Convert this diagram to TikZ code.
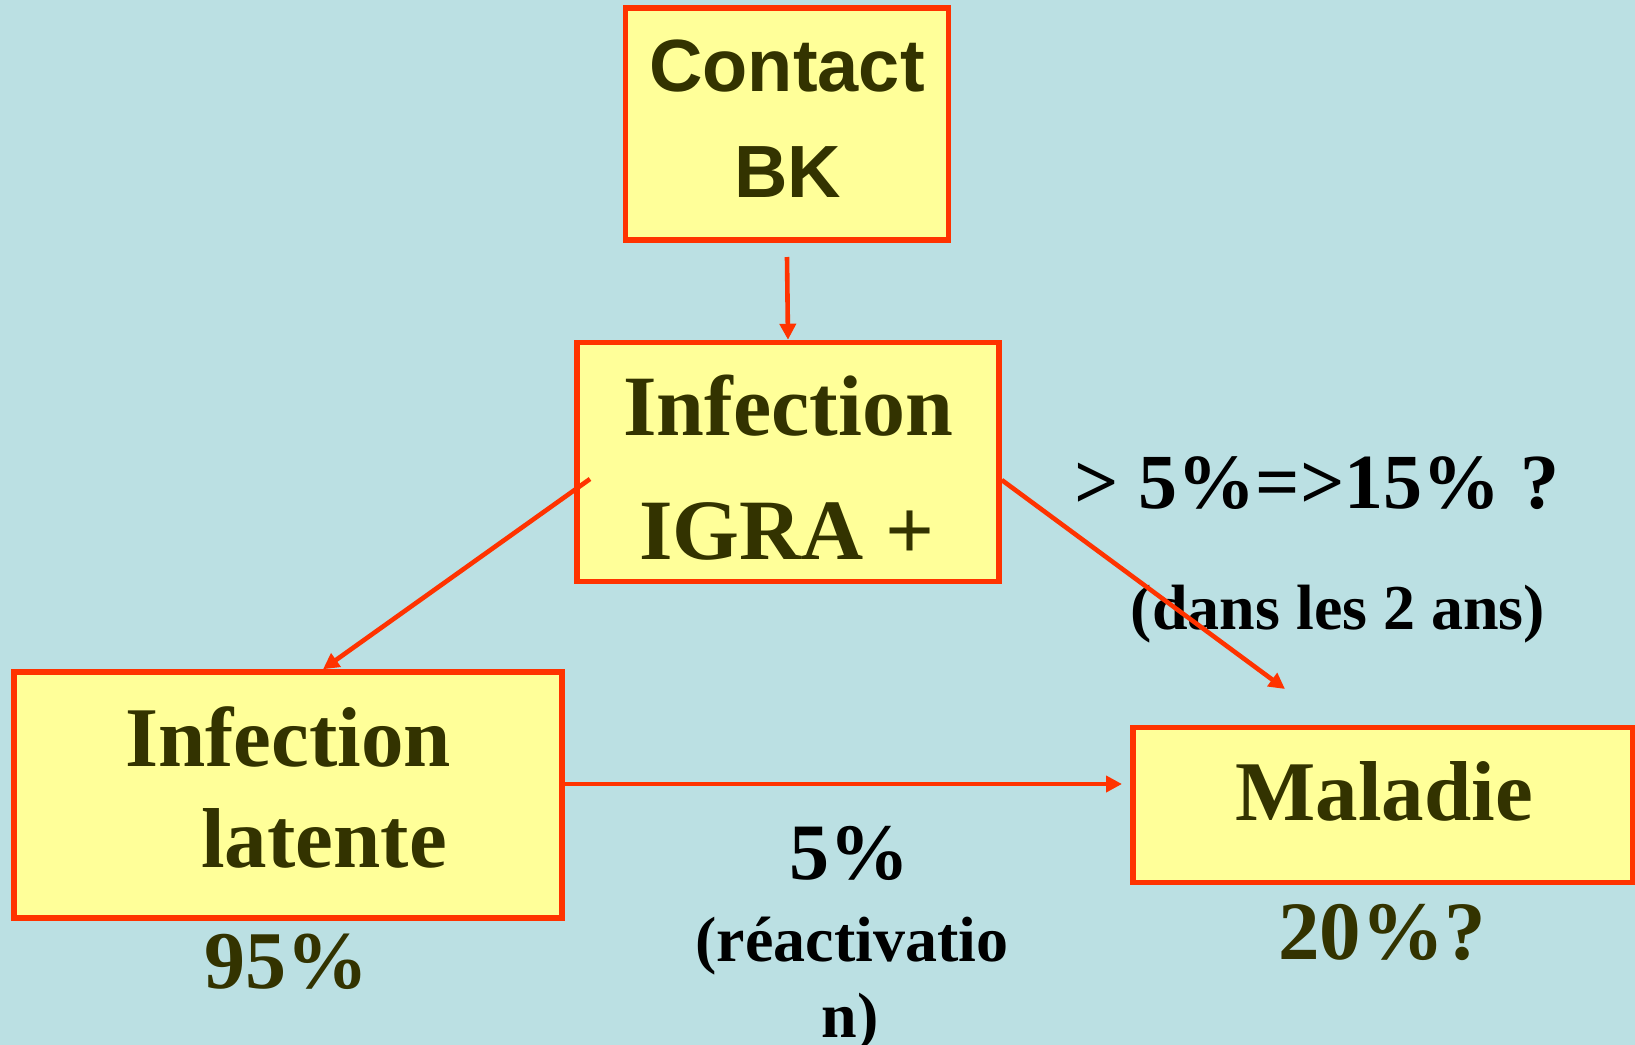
\documentclass[tikz,border=0pt]{standalone}
\usepackage{fontspec}
\setmainfont{Liberation Serif}
\newfontfamily\sansfam{Liberation Sans}
\usetikzlibrary{arrows.meta}
\definecolor{bgc}{HTML}{BBE0E3}
\definecolor{boxfill}{HTML}{FFFF99}
\definecolor{boxline}{HTML}{FF3300}
\definecolor{txt}{HTML}{333300}
\begin{document}
\begin{tikzpicture}[x=0.5pt,y=-0.5pt,
  box/.style={draw=boxline, fill=boxfill, line width=2.75pt, inner sep=0pt, rectangle},
  conn/.style={draw=boxline, line width=2.3pt, -{Triangle[length=8pt,width=8pt]}},
  lbl/.style={anchor=base, inner sep=0pt, text=txt},
  blk/.style={anchor=base, inner sep=0pt, text=black}]
\useasboundingbox (0,0) rectangle (1635,1045);
\fill[bgc] (0,0) rectangle (1635,1045);

% boxes
\node[box, minimum width=161.5pt, minimum height=116pt] (contact) at (787,124) {};
\node[box, minimum width=211pt, minimum height=119.5pt] (igra) at (788,462) {};
\node[box, minimum width=274pt, minimum height=123pt] (latente) at (288,795) {};
\node[box, minimum width=250pt, minimum height=77.5pt] (maladie) at (1383,805) {};

% box texts
\node[lbl, font=\sansfam\bfseries\fontsize{37pt}{44pt}\selectfont] (t1) at (787,91) {Contact};
\node[lbl, font=\sansfam\bfseries\fontsize{37pt}{44pt}\selectfont] (t2) at (788,197) {BK};
\node[lbl, font=\bfseries\fontsize{43pt}{50pt}\selectfont] (t3) at (788,435) {Infection};
\node[lbl, font=\bfseries\fontsize{43pt}{50pt}\selectfont] (t4) at (787,559) {IGRA +};
\node[lbl, font=\bfseries\fontsize{42.5pt}{50pt}\selectfont] (t5) at (288,766) {Infection};
\node[lbl, font=\bfseries\fontsize{42.5pt}{50pt}\selectfont] (t6) at (324,867) {latente};
\node[lbl, font=\bfseries\fontsize{42.5pt}{50pt}\selectfont] (t7) at (1384,820) {Maladie};

% labels
\node[lbl, font=\bfseries\fontsize{41pt}{48pt}\selectfont] (p95) at (286,988) {95\%};
\node[lbl, font=\bfseries\fontsize{41.5pt}{48pt}\selectfont] (p20) at (1382,959) {20\%?};
\node[blk, font=\bfseries\fontsize{40pt}{48pt}\selectfont] (p5) at (849,879) {5\%};
\node[blk, font=\bfseries\fontsize{32pt}{38pt}\selectfont] (r1) at (852,961) {(réactivatio};
\node[blk, font=\bfseries\fontsize{32pt}{38pt}\selectfont] (r2) at (850,1037) {n)};
\node[blk, font=\bfseries\fontsize{39pt}{46pt}\selectfont] (p15) at (1317,508) {> 5\%=>15\% ?};
\node[blk, font=\bfseries\fontsize{32pt}{38pt}\selectfont] (d2) at (1338,629) {(dans les 2 ans)};

% connector end points
\coordinate (c1) at (787,257);
\coordinate (l1) at (590,479);
\coordinate (m1) at (1122,784);
\coordinate (m2) at (1285,689);

% connectors
\draw[conn] (c1) -- (igra.north);
\draw[conn] (l1) -- (323,0 |- latente.north);
\draw[conn] (igra.east |- 0,480) -- (m2);
\draw[conn] (latente.east |- 0,784) -- (m1);
\end{tikzpicture}
\end{document}
